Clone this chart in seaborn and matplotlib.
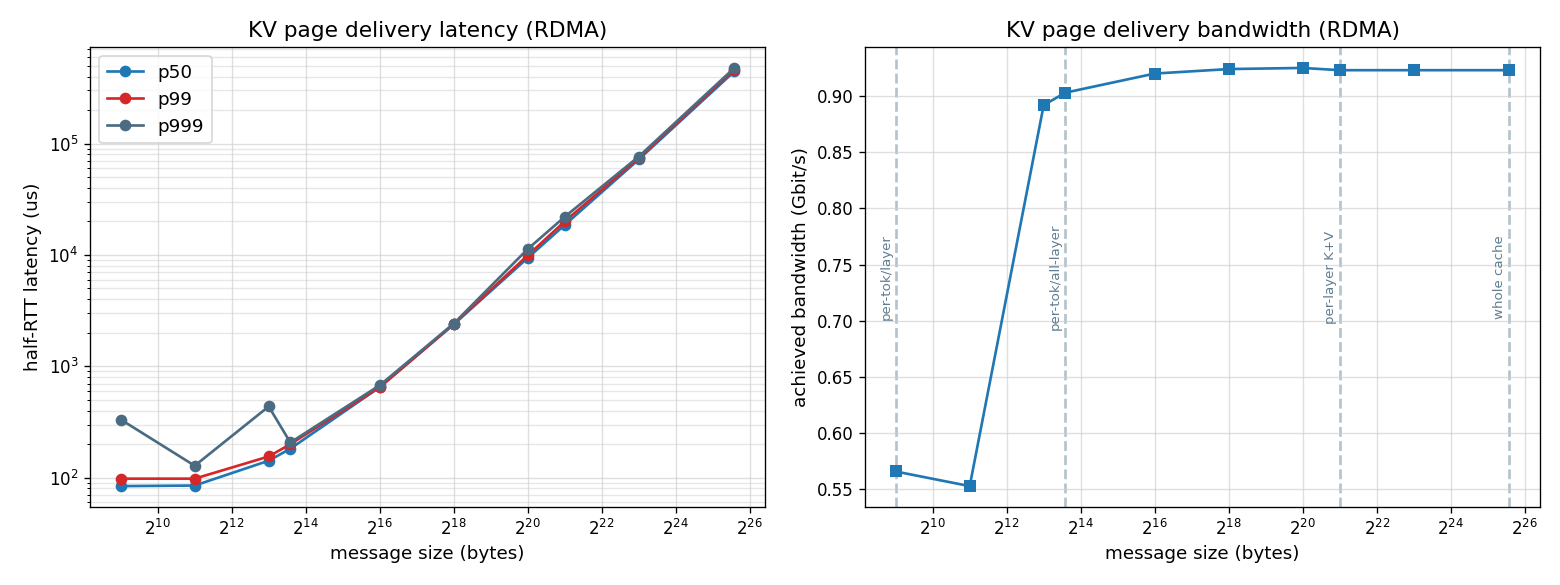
import numpy as np
import pandas as pd
import matplotlib
matplotlib.use("Agg")
import matplotlib.pyplot as plt
import seaborn as sns

# ---- data ----
sizes = [512, 2048, 8192, 12288, 65536, 262144, 1048576, 2097152, 8388608, 50331648]
p50 = [84, 85, 142, 182, 650, 2380, 9400, 18600, 72000, 445000]
p99 = [98, 98, 155, 200, 648, 2390, 9900, 20000, 74000, 462000]
p999 = [333, 128, 436, 207, 675, 2420, 11300, 22000, 76400, 478000]
bandwidth = [0.566, 0.553, 0.892, 0.903, 0.920, 0.924, 0.925, 0.923, 0.923, 0.923]
markers_x = [512, 12288, 2097152, 50331648]
markers_lbl = ["per-tok/layer", "per-tok/all-layer", "per-layer K+V", "whole cache"]
series_names = ["p50", "p99", "p999"]
series_colors = ["#1f77b4", "#d62728", "#4a6b82"]

plt.rcParams['font.family'] = ['DejaVu Sans']

fig = plt.figure(figsize=(13, 4.875), dpi=120)
ax1 = fig.add_axes([0.0577, 0.1333, 0.4327, 0.7863])
ax2 = fig.add_axes([0.5545, 0.1333, 0.4327, 0.7863])

for name, vals, col in zip(series_names, [p50, p99, p999], series_colors):
    df = pd.DataFrame({"size": sizes, "lat": vals})
    sns.lineplot(data=df, x="size", y="lat", ax=ax1, color=col, marker="o",
                 markersize=7, markeredgecolor=col, markeredgewidth=0,
                 linewidth=1.6, label=name)

ax1.set_xscale("log", base=2)
ax1.set_yscale("log")
ax1.set_xticks([2**k for k in range(10, 27, 2)])
ax1.grid(True, which="major", color="#d0d0d0", alpha=0.7, linewidth=0.8)
ax1.grid(True, which="minor", axis="y", color="#d0d0d0", alpha=0.5, linewidth=0.8)
ax1.set_xlabel("message size (bytes)", fontsize=11)
ax1.set_ylabel("half-RTT latency (us)", fontsize=11)
ax1.set_title("KV page delivery latency (RDMA)", fontsize=13)
ax1.legend(loc="upper left", fontsize=11, handlelength=2.0)

dfb = pd.DataFrame({"size": sizes, "bw": bandwidth})
sns.lineplot(data=dfb, x="size", y="bw", ax=ax2, color="#1f77b4", marker="s",
             markersize=7, markeredgecolor="#1f77b4", markeredgewidth=0, linewidth=1.6)
ax2.set_xscale("log", base=2)
ax2.set_xticks([2**k for k in range(10, 27, 2)])
ax2.grid(True, which="major", color="#d0d0d0", alpha=0.7, linewidth=0.8)
for xv, lbl in zip(markers_x, markers_lbl):
    ax2.axvline(xv, color="#b4c2cc", linestyle="--", linewidth=1.6, zorder=1)
    ax2.text(xv / 1.06, 0.5, lbl, rotation=90, ha="right", va="center",
             fontsize=8, color="#5f7d90", transform=ax2.get_xaxis_transform())
ax2.set_xlabel("message size (bytes)", fontsize=11)
ax2.set_ylabel("achieved bandwidth (Gbit/s)", fontsize=11)
ax2.set_title("KV page delivery bandwidth (RDMA)", fontsize=13)

for ax in (ax1, ax2):
    ax.tick_params(labelsize=10)

fig.savefig("out.png", dpi=120)
